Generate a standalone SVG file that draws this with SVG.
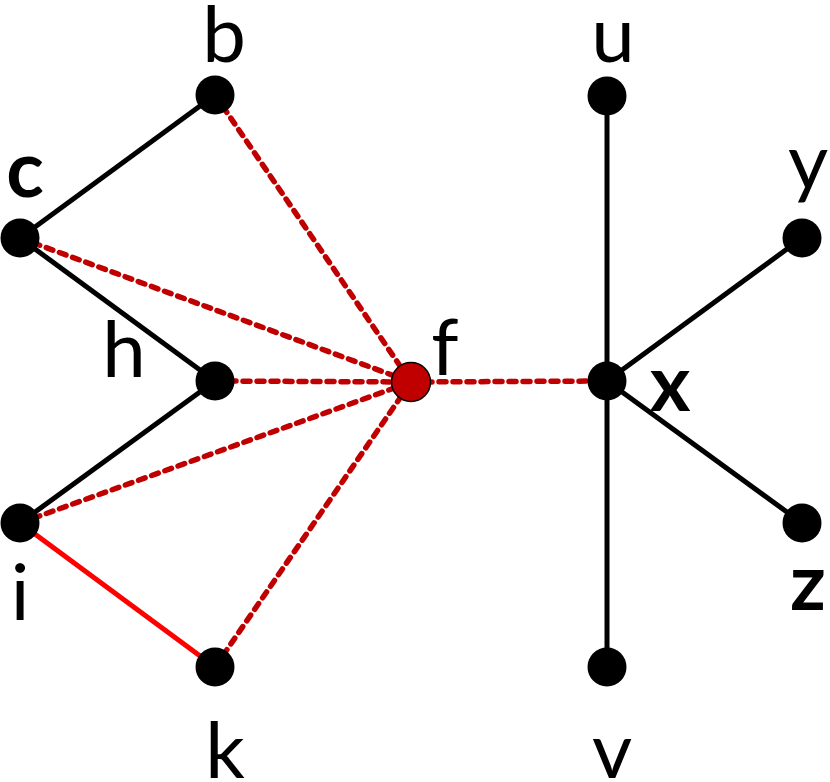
<svg xmlns="http://www.w3.org/2000/svg" width="830" height="782" viewBox="0 0 830 782">
<style>
.e{stroke:#000;stroke-width:5;fill:none}
.r{stroke:#ff0000;stroke-width:5;fill:none}
.d{stroke:#c00000;stroke-width:5.5;fill:none;stroke-dasharray:7 7;stroke-linecap:round}
.n{fill:#000}
.nf{fill:#c00000;stroke:#000;stroke-width:1.5}
text{font-family:Lato,"Open Sans","DejaVu Sans",sans-serif;font-size:78px;fill:#000;text-anchor:middle}
.b{font-weight:bold}
</style>
<rect width="830" height="782" fill="#fff"/>
<g id="connectors">
<line class="e" x1="215" y1="95" x2="20" y2="238"/>
<line class="e" x1="20" y1="238" x2="215" y2="381"/>
<line class="e" x1="215" y1="381" x2="20" y2="523"/>
<line class="r" x1="20" y1="523" x2="215" y2="667"/>
<line class="e" x1="607" y1="96" x2="607" y2="667"/>
<line class="e" x1="607" y1="381" x2="802" y2="238"/>
<line class="e" x1="607" y1="381" x2="802" y2="523"/>
<line class="d" x1="215" y1="95" x2="411" y2="382"/>
<line class="d" x1="20" y1="238" x2="411" y2="382"/>
<line class="d" x1="215" y1="381" x2="411" y2="382"/>
<line class="d" x1="20" y1="523" x2="411" y2="382"/>
<line class="d" x1="215" y1="667" x2="411" y2="382"/>
<line class="d" x1="411" y1="382" x2="607" y2="381"/>
</g>
<g id="b"><circle class="n" cx="215" cy="95" r="19.5"/><text x="224" y="62">b</text></g>
<g id="c"><circle class="n" cx="20" cy="238" r="19.5"/><text class="b" x="25" y="197">c</text></g>
<g id="h"><circle class="n" cx="215" cy="381" r="19.5"/><text x="124" y="377">h</text></g>
<g id="i"><circle class="n" cx="20" cy="523" r="19.5"/><text x="20" y="620">i</text></g>
<g id="k"><circle class="n" cx="215" cy="667" r="19.5"/><text x="225" y="778">k</text></g>
<g id="f"><circle class="nf" cx="411" cy="382" r="19.5"/><text x="445" y="375">f</text></g>
<g id="u"><circle class="n" cx="607" cy="96" r="19.5"/><text x="613" y="62">u</text></g>
<g id="y"><circle class="n" cx="802" cy="238" r="19.5"/><text x="808" y="189">y</text></g>
<g id="x"><circle class="n" cx="607" cy="381" r="19.5"/><text class="b" x="670" y="411">x</text></g>
<g id="z"><circle class="n" cx="802" cy="523" r="19.5"/><text class="b" x="808" y="610">z</text></g>
<g id="v"><circle class="n" cx="607" cy="667" r="19.5"/><text x="612" y="778">v</text></g>
</svg>
